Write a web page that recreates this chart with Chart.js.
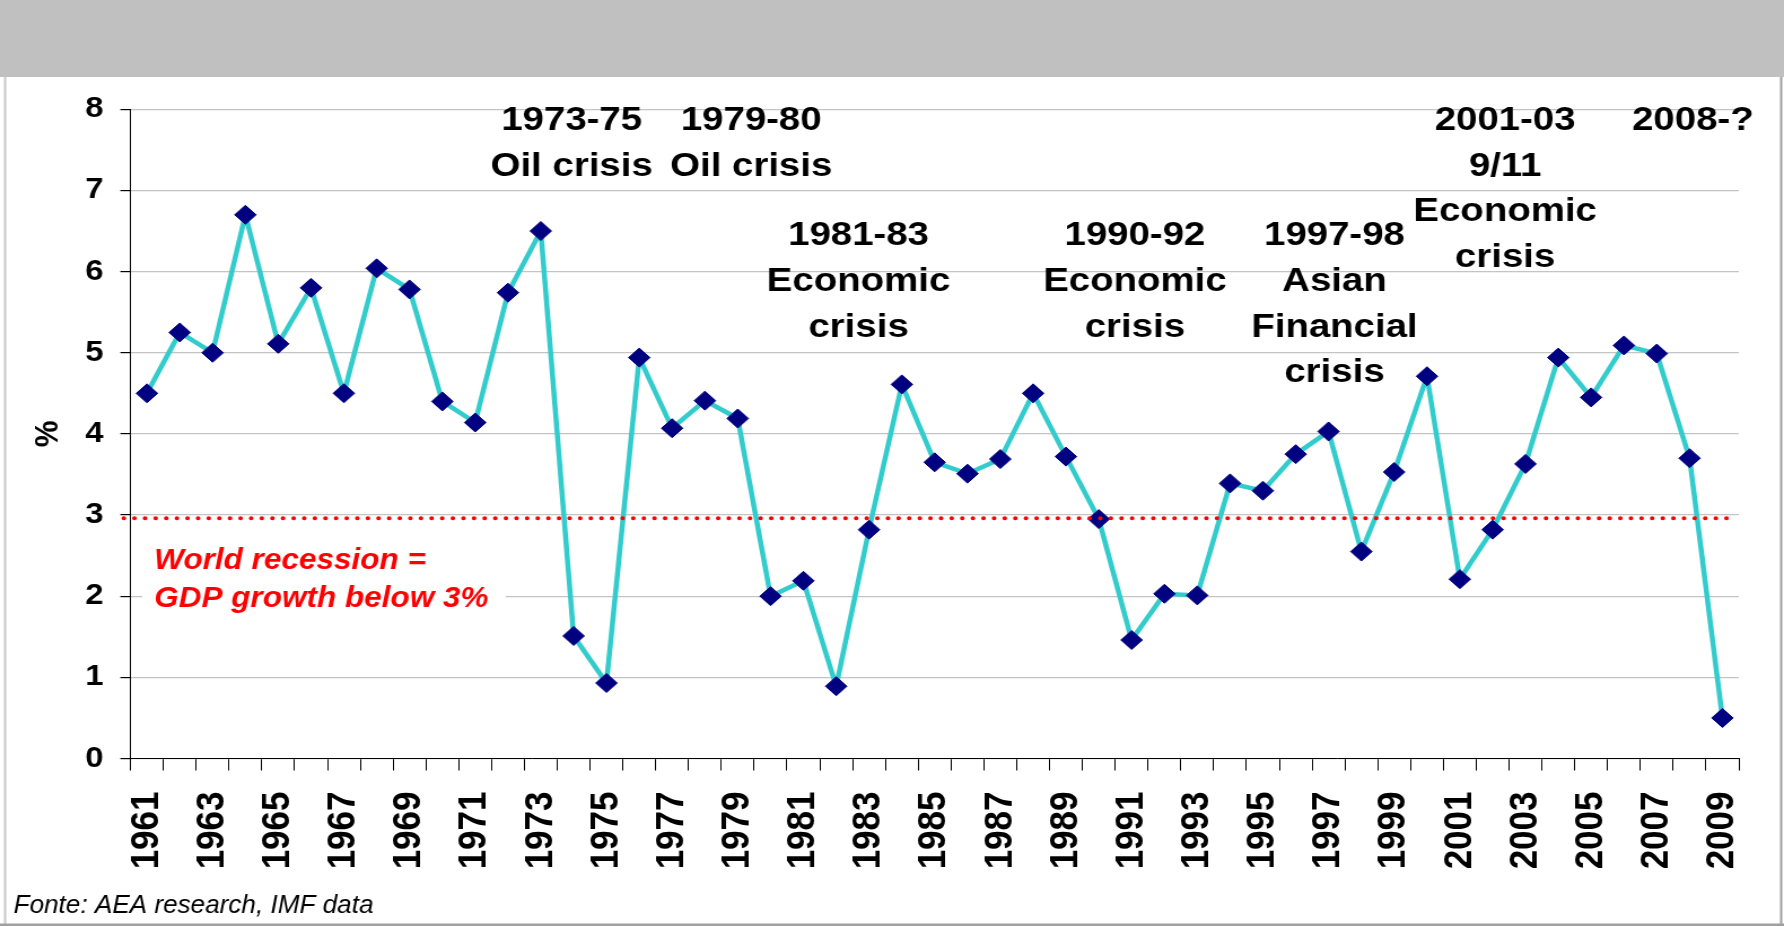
<!DOCTYPE html>
<html>
<head>
<meta charset="utf-8">
<script src="https://cdn.jsdelivr.net/npm/chart.js@4.4.1/dist/chart.umd.min.js"></script>
<style>
  html, body { margin: 0; padding: 0; background: #fff; overflow: hidden; }
  /* the source picture is stretched sideways, so the whole chart is too */
  #wrap { position: absolute; left: 0; top: 0; width: 1580px; height: 926px; transform: scaleX(1.1291); transform-origin: 0 0; }
</style>
</head>
<body>
<div id="wrap"><canvas id="gdp"></canvas></div>
<script>
// world GDP growth, %
const years = ['1961','1962','1963','1964','1965','1966','1967','1968','1969','1970',
  '1971','1972','1973','1974','1975','1976','1977','1978','1979','1980',
  '1981','1982','1983','1984','1985','1986','1987','1988','1989','1990',
  '1991','1992','1993','1994','1995','1996','1997','1998','1999','2000',
  '2001','2002','2003','2004','2005','2006','2007','2008','2009'];
const gdpGrowth = [4.5, 5.25, 5.0, 6.7, 5.11, 5.8, 4.5, 6.04, 5.78, 4.4,
  4.14, 5.74, 6.5, 1.51, 0.93, 4.94, 4.07, 4.41, 4.19, 2.0,
  2.19, 0.89, 2.82, 4.61, 3.65, 3.51, 3.69, 4.5, 3.72, 2.95,
  1.46, 2.03, 2.01, 3.39, 3.3, 3.75, 4.03, 2.55, 3.53, 4.71,
  2.21, 2.82, 3.63, 4.94, 4.45, 5.09, 4.99, 3.7, 0.5];
const yMin = 0;
const yMax = 8;
const recessionLevel = 2.96;

const crisisLabels = [
  ['1973-75', 'Oil crisis'],
  ['1979-80', 'Oil crisis'],
  ['1981-83', 'Economic', 'crisis'],
  ['1990-92', 'Economic', 'crisis'],
  ['1997-98', 'Asian', 'Financial', 'crisis'],
  ['2001-03', '9/11', 'Economic', 'crisis'],
  ['2008-?']
];
// where each label sits: category index and value of its first line
const crisisAt = [[12.94, 7.89], [18.41, 7.89], [21.68, 6.47], [30.1, 6.47], [36.18, 6.47], [41.38, 7.89], [47.1, 7.89]];

const FONT = 'Arial, "Liberation Sans", sans-serif';

// text squeezed a little sideways
function narrowText(c, text, x, y, sx) {
  c.save();
  c.translate(x, y);
  c.scale(sx, 1);
  c.fillText(text, 0, 0);
  c.restore();
}

const frame = {
  id: 'frame',
  beforeDraw(chart) {
    const c = chart.ctx;
    c.save();
    c.fillStyle = '#fff';
    c.fillRect(0, 0, chart.width, chart.height);
    c.fillStyle = '#c0c0c0';
    c.fillRect(0, 0, chart.width, 77);
    c.fillStyle = '#c8c8c8';
    c.fillRect(3.5, 77, 2, chart.height - 77);
    c.fillStyle = '#a0a0a0';
    c.fillRect(0, 923.5, chart.width, 2.5);
    c.fillRect(1576.5, 77, 2, chart.height - 77);
    c.restore();
  },
  beforeDatasetsDraw(chart) {
    const c = chart.ctx;
    c.save();
    c.fillStyle = '#fff';
    c.fillRect(126, 530, 322, 92);
    c.fillStyle = '#ff0000';
    c.font = 'italic bold 30px ' + FONT;
    c.textBaseline = 'alphabetic';
    narrowText(c, 'World recession =', 136.6, 569, 0.93);
    narrowText(c, 'GDP growth below 3%', 136.6, 607, 0.93);
    c.restore();
  },
  afterDatasetsDraw(chart) {
    const c = chart.ctx;
    const x = chart.scales.x, y = chart.scales.y;
    c.save();
    // recession threshold
    const ry = y.getPixelForValue(recessionLevel);
    c.strokeStyle = '#ff0000';
    c.lineWidth = 4;
    c.lineCap = 'round';
    c.setLineDash([0.1, 9.3]);
    c.beginPath();
    c.moveTo(chart.chartArea.left - 6, ry);
    c.lineTo(chart.chartArea.right - 9, ry);
    c.stroke();
    c.setLineDash([]);
    // crisis labels
    c.fillStyle = '#000';
    c.font = 'bold 34px ' + FONT;
    c.textAlign = 'center';
    c.textBaseline = 'alphabetic';
    crisisLabels.forEach((lines, i) => {
      const px = x.getPixelForValue(crisisAt[i][0]);
      const py = y.getPixelForValue(crisisAt[i][1]);
      lines.forEach((t, k) => c.fillText(t, px, py + 12 + k * 45.6));
    });
    c.restore();
  },
  afterDraw(chart) {
    const c = chart.ctx;
    c.save();
    c.fillStyle = '#000';
    c.font = 'italic 25px ' + FONT;
    c.textBaseline = 'alphabetic';
    narrowText(c, 'Fonte: AEA research, IMF data', 12, 912.5, 0.925);
    c.restore();
  }
};

new Chart(document.getElementById('gdp'), {
  type: 'line',
  data: {
    labels: years,
    datasets: [{
      data: gdpGrowth,
      borderColor: '#33cccc',
      borderWidth: 4.5,
      tension: 0,
      pointStyle: 'rectRot',
      pointRadius: 9.5,
      pointHoverRadius: 9.5,
      pointBackgroundColor: '#000080',
      pointBorderColor: '#000080',
      pointBorderWidth: 1
    }]
  },
  options: {
    responsive: true,
    maintainAspectRatio: false,
    animation: false,
    events: [],
    layout: { padding: { top: 109.3, right: 40, left: 0, bottom: 0 } },
    plugins: { legend: { display: false }, tooltip: { enabled: false } },
    scales: {
      x: {
        offset: true,
        grid: { offset: true, drawOnChartArea: false, color: '#000', tickLength: 12, lineWidth: 1 },
        border: { color: '#000', width: 1 },
        ticks: {
          autoSkip: false,
          minRotation: 90,
          maxRotation: 90,
          padding: 21,
          color: '#000',
          font: { family: FONT, size: 35, weight: 'bold' },
          callback: (v, i) => (i % 2 === 0 ? years[i] : '')
        },
        afterFit: (s) => {
          s.height = 926 - 758.5;
          s.paddingLeft = 0;
          s.paddingRight = 0;
        }
      },
      y: {
        min: yMin,
        max: yMax,
        grid: { color: '#c4c4c4', lineWidth: 1.2, tickColor: '#000', tickLength: 9 },
        border: { color: '#000', width: 1 },
        ticks: { stepSize: 1, padding: 15, color: '#000', font: { family: FONT, size: 29, weight: 'bold' } },
        title: { display: true, text: '%', color: '#000', padding: { top: 24.5, bottom: 0 }, font: { family: FONT, size: 30, weight: 'bold' } },
        afterFit: (s) => { s.width = 115.6; }
      }
    }
  },
  plugins: [frame]
});
</script>
</body>
</html>
